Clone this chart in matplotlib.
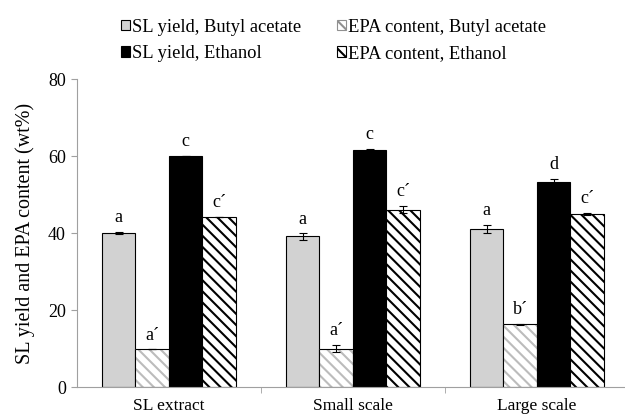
import numpy as np
import matplotlib.pyplot as plt
from matplotlib.patches import Patch

plt.rcParams['font.family'] = ['Liberation Serif', 'DejaVu Serif']
plt.rcParams['hatch.linewidth'] = 1.5

groups = ["SL extract", "Small scale", "Large scale"]
series = ["SL yield, Butyl acetate", "EPA content, Butyl acetate",
          "SL yield, Ethanol", "EPA content, Ethanol"]
sl_ba = [40.0, 39.1, 41.1]
sl_ba_err = [0.2, 0.8, 1.0]
epa_ba = [9.8, 10.0, 16.3]
epa_ba_err = [0.0, 1.0, 0.1]
sl_et = [60.0, 61.6, 53.3]
sl_et_err = [0.1, 0.3, 0.7]
epa_et = [44.2, 46.1, 45.0]
epa_et_err = [0.0, 1.0, 0.2]
letters = [["a", "a\u00b4", "c", "c\u00b4"],
           ["a", "a\u00b4", "c", "c\u00b4"],
           ["a", "b\u00b4", "d", "c\u00b4"]]

vals = [sl_ba, epa_ba, sl_et, epa_et]
errs = [sl_ba_err, epa_ba_err, sl_et_err, epa_et_err]

fig = plt.figure(figsize=(6.25, 4.16), dpi=100)
ax = fig.add_axes([0.123, 0.0697, 0.883, 0.7403])

x = np.arange(len(groups))
w = 0.182
offsets = [-1.5 * w, -0.5 * w, 0.5 * w, 1.5 * w]
gray = '#d2d2d2'
light_hatch = '#bcbcbc'

# SL yield, butyl acetate
ax.bar(x + offsets[0], sl_ba, w, color=gray, edgecolor='black', linewidth=0.8)
# EPA content, butyl acetate: light grey hatch, then black outline on top
ax.bar(x + offsets[1], epa_ba, w, color='white', edgecolor=light_hatch,
       hatch='\\\\\\', linewidth=0)
ax.bar(x + offsets[1], epa_ba, w, fill=False, edgecolor='black', linewidth=0.8)
# SL yield, ethanol
ax.bar(x + offsets[2], sl_et, w, color='black', edgecolor='black', linewidth=0.8)
# EPA content, ethanol
ax.bar(x + offsets[3], epa_et, w, color='white', edgecolor='black',
       hatch='\\\\\\', linewidth=0.8)

for i in range(4):
    ax.errorbar(x + offsets[i], vals[i], yerr=errs[i], fmt='none',
                ecolor='black', elinewidth=0.8, capsize=3, capthick=0.8)
    for j in range(len(groups)):
        ax.text(x[j] + offsets[i], vals[i][j] + errs[i][j] + 1.5, letters[j][i],
                ha='center', va='bottom', fontsize=13)

ax.set_xlim(-0.5, 2.5)
ax.set_ylim(0, 80)
ax.set_yticks([0, 20, 40, 60, 80])
ax.set_xticks(x)
ax.set_xticklabels(groups, fontsize=12.5)
ax.set_xticks([0.5, 1.5], minor=True)
ax.tick_params(axis='x', which='major', length=0, pad=8)
ax.tick_params(axis='x', which='minor', length=4, color='#a0a0a0')
ax.tick_params(axis='y', labelsize=13, length=4, color='#a0a0a0', pad=4)
ax.set_ylabel("SL yield and EPA content (wt%)", fontsize=14.5, labelpad=9)
for s in ['top', 'right']:
    ax.spines[s].set_visible(False)
for s in ['left', 'bottom']:
    ax.spines[s].set_color('#a0a0a0')

handles = [
    Patch(facecolor=gray, edgecolor='black', linewidth=0.8),
    Patch(facecolor='black', edgecolor='black', linewidth=0.8),
    Patch(facecolor='white', edgecolor='#909090', hatch='\\\\', linewidth=0.8),
    Patch(facecolor='white', edgecolor='black', hatch='\\\\\\', linewidth=0.8),
]
labels = [series[0], series[2], series[1], series[3]]
fig.legend(handles, labels, loc='upper left', bbox_to_anchor=(0.167, 0.995),
           ncol=2, frameon=False, fontsize=13.3, handlelength=0.5,
           handleheight=0.5, handletextpad=0.12, columnspacing=1.9,
           labelspacing=0.5)

fig.savefig("out.png", dpi=100)
